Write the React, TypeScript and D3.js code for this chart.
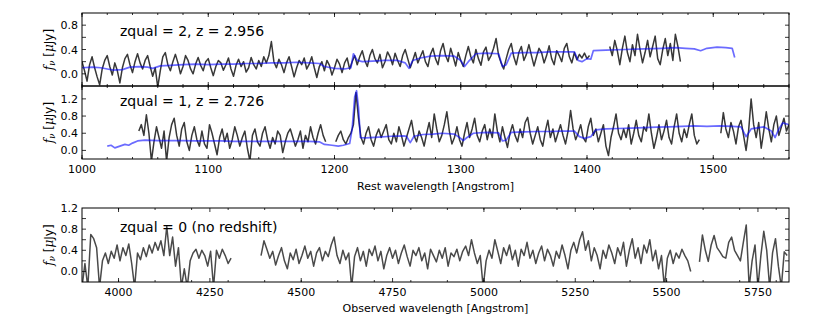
import * as d3 from "d3";

// ---- panel 1: zqual = 2 (rest frame) ----
const p1Label = "zqual = 2, z = 2.956";
const p1Step = 2;
const p1StartA = 1000;
const p1FluxA = [
  0.20, 0.05, -0.12, 0.15, 0.28, 0.10, -0.05, -0.18, 0.08, 0.22,
  0.30, 0.12, -0.02, 0.18, 0.05, -0.15, 0.10, 0.25, 0.32, 0.15,
  0.02, 0.20, 0.33, 0.18, 0.08, 0.22, 0.30, 0.12, -0.04, 0.10,
  -0.22, 0.05, 0.28, 0.35, 0.15, 0.05, 0.20, 0.32, 0.18, 0.00,
  0.12, 0.30, 0.22, 0.08, 0.00, 0.16, 0.27, 0.14, 0.05, 0.20,
  0.25, 0.10, -0.03, 0.12, 0.22, 0.18, 0.06, 0.15, 0.26, 0.08,
  -0.04, 0.14, 0.24, 0.12, 0.20, 0.03, 0.10, 0.27, 0.15, 0.08,
  0.22, 0.12, 0.28, 0.18, 0.30, 0.53, 0.20, 0.10, 0.24, 0.15,
  0.02, 0.18, 0.28, 0.12, -0.05, 0.10, 0.22, 0.15, 0.26, 0.08,
  0.16, 0.28, 0.10, -0.06, 0.12, 0.20, 0.05, 0.22, 0.14, -0.02,
  0.10, 0.24, 0.16, 0.02, 0.18, 0.26, 0.08, 0.20, 0.30, 0.15,
  0.28, 0.38, 0.22, 0.12, 0.30, 0.40, 0.25, 0.18, 0.32, 0.10,
  0.20, 0.36, 0.28, 0.15, 0.34, 0.22, 0.12, 0.30, 0.40, 0.25,
  0.10, 0.22, 0.35, 0.18, 0.28, 0.38, 0.20, 0.12, 0.32, 0.42,
  0.25, 0.15, 0.38, 0.50, 0.30, 0.20, 0.42, 0.28, 0.13, 0.35,
  0.22, 0.12, 0.30, 0.45, 0.28, 0.18, 0.40, 0.25, 0.14, 0.36,
  0.44, 0.22, 0.30, 0.42, 0.58, 0.30, 0.18, 0.08, 0.25, 0.40,
  0.50, 0.28, 0.15, 0.35, 0.45, 0.22, 0.32, 0.48, 0.30, 0.13,
  0.28, 0.42, 0.35, 0.18, 0.30, 0.46, 0.25, 0.15, 0.38, 0.30,
  0.20, 0.42, 0.50, 0.28, 0.18, 0.35, 0.23, 0.32, 0.26, 0.34,
  0.25, 0.30,
];
const p1StartB = 1418;
const p1FluxB = [
  0.45, 0.30, 0.55, 0.38, 0.15, 0.42, 0.62, 0.35, 0.20, 0.48,
  0.30, 0.65, 0.40, 0.18, 0.35, 0.55, 0.28, 0.45, 0.62, 0.25,
  0.15, 0.40, 0.58, 0.30, 0.50, 0.22, 0.65, 0.45, 0.20,
];
const p1Model: [number, number][] = [
  [1000, 0.10], [1008, 0.11], [1015, 0.10], [1020, 0.08], [1025, 0.06], [1032, 0.07],
  [1038, 0.11], [1045, 0.12], [1052, 0.11], [1056, 0.09], [1062, 0.13], [1070, 0.14],
  [1080, 0.15], [1090, 0.16], [1100, 0.15], [1110, 0.16], [1120, 0.16], [1130, 0.17],
  [1140, 0.17], [1150, 0.18], [1160, 0.18], [1170, 0.19], [1180, 0.18], [1188, 0.17],
  [1192, 0.12], [1200, 0.09], [1208, 0.08], [1213, 0.10], [1215, 0.33], [1218, 0.22],
  [1222, 0.20], [1230, 0.21], [1240, 0.22], [1250, 0.22], [1256, 0.18], [1259, 0.09],
  [1262, 0.22], [1268, 0.26], [1276, 0.29], [1285, 0.30], [1295, 0.29], [1300, 0.22],
  [1303, 0.12], [1306, 0.20], [1312, 0.33], [1320, 0.34], [1330, 0.33], [1333, 0.12],
  [1336, 0.15], [1340, 0.34], [1350, 0.35], [1360, 0.35], [1370, 0.36], [1380, 0.36],
  [1390, 0.36], [1393, 0.22], [1396, 0.20], [1400, 0.25], [1403, 0.24], [1405, 0.38],
  [1415, 0.39], [1430, 0.40], [1445, 0.41], [1460, 0.42], [1470, 0.43], [1478, 0.42],
  [1485, 0.41], [1490, 0.38], [1495, 0.42], [1503, 0.44], [1510, 0.43], [1515, 0.42],
  [1517, 0.27],
];

// ---- panel 2: zqual = 1 (rest frame) ----
const p2Label = "zqual = 1, z = 2.726";
const p2Step = 2;
const p2StartA = 1045;
const p2FluxA = [
  0.45, 0.60, 0.35, 0.83, 0.40, -0.25, 0.20, 0.55, 0.30, 0.05,
  0.45, -0.25, 0.30, 0.60, 0.75, 0.35, 0.10, 0.50, 0.65, 0.20,
  0.00, 0.35, 0.55, 0.25, 0.10, 0.45, 0.15, 0.05, 0.60, 0.40,
  0.15, -0.10, 0.30, 0.50, 0.20, 0.40, 0.05, 0.25, 0.55, 0.35,
  0.10, 0.30, 0.45, 0.05, -0.25, 0.35, 0.50, 0.20, 0.10, 0.40,
  0.55, 0.25, 0.05, 0.30, 0.15, 0.45, 0.35, -0.05, 0.20, 0.40,
  0.50, 0.30, 0.10, 0.25, 0.45, 0.05, 0.35, 0.20, 0.55, 0.30,
  0.15, 0.40, 0.60, 0.35, 0.20,
];
const p2StartB = 1201;
const p2FluxB = [
  0.20, 0.35, 0.45, 0.25, 0.15, 0.30, 0.40, 0.60, 1.35, 0.75,
  0.30, 0.15, 0.40, 0.55, 0.25, 0.10, 0.35, 0.50, 0.30, 0.45,
  0.60, 0.25, 0.15, 0.40, 0.20, 0.55, 0.35, 0.10, 0.30, 0.50,
  0.70, 0.35, 0.20, 0.45, 0.30, 0.10, 0.40, 0.65, 0.30, 0.85,
  0.50, 0.20, 0.35, 0.60, 0.90, 0.45, 0.15, 0.30, 0.55, 0.25,
  0.10, 0.40, 0.65, 0.30, 0.50, 0.75, 0.35, 0.20, 0.45, 0.60,
  0.25, 0.50, 0.30, 0.85, 0.45, 0.20, 0.55, 0.30, 0.07, 0.40,
  0.60, 0.35, 0.20, 0.50, 0.30, 0.65, 0.77, 0.40, 0.15, 0.35,
  0.55, 0.25, 0.10, 0.45, 0.70, 0.30, 0.50, 0.20, 0.40, 0.60,
  0.35, 0.15, 0.45, 0.93, 0.50, 0.25, 0.40, 0.60, 0.30, 0.20,
  0.55, 0.75, 0.35, 0.50, 0.20, 0.40, 0.60, 0.10, -0.12, 0.30,
  0.55, 0.85, 0.40, 0.25, 0.50, 0.30, 0.60, 0.15, 0.40, 0.70,
  0.35, 0.20, 0.55, 0.45, 0.85, 0.40, 0.05, 0.30, 0.60, 0.25,
  0.45, 0.70, 0.30, 0.15, 0.55, 0.85, 0.40, 0.20, 0.50, 0.30,
  0.60, 0.85, 0.35, 0.15, 0.25,
];
const p2StartC = 1506;
const p2FluxC = [
  0.40, 0.88, 0.50, 0.30, 0.65, 0.45, 0.15, 0.55, 0.70, 0.35,
  0.00, 0.45, 1.20, 0.60, 0.30, 0.65, 0.05, 0.45, 0.90, 0.50,
  0.20, 0.60, 0.80, 0.35, 0.55, 0.75, 0.45, 0.60,
];
const p2Model: [number, number][] = [
  [1020, 0.10], [1023, 0.12], [1026, 0.06], [1030, 0.10], [1034, 0.14], [1037, 0.12],
  [1040, 0.17], [1044, 0.22], [1050, 0.24], [1060, 0.23], [1070, 0.23], [1080, 0.23],
  [1090, 0.22], [1100, 0.22], [1110, 0.22], [1120, 0.21], [1130, 0.21], [1140, 0.21],
  [1150, 0.21], [1160, 0.21], [1170, 0.21], [1180, 0.21], [1188, 0.20], [1192, 0.14],
  [1198, 0.12], [1203, 0.10], [1207, 0.12], [1212, 0.16], [1214, 0.5], [1216, 1.25],
  [1217.5, 1.39], [1219, 1.0], [1220.5, 0.3], [1225, 0.29], [1235, 0.31], [1245, 0.33],
  [1255, 0.34], [1257, 0.33], [1260, 0.18], [1263, 0.33], [1270, 0.37], [1278, 0.38],
  [1285, 0.40], [1295, 0.38], [1299, 0.30], [1302, 0.23], [1305, 0.30], [1310, 0.40],
  [1320, 0.42], [1330, 0.41], [1333, 0.22], [1336, 0.24], [1340, 0.42], [1350, 0.43],
  [1360, 0.44], [1370, 0.44], [1380, 0.45], [1390, 0.45], [1394, 0.32], [1398, 0.28],
  [1403, 0.32], [1407, 0.48], [1415, 0.50], [1425, 0.51], [1435, 0.52], [1445, 0.53],
  [1455, 0.54], [1465, 0.55], [1475, 0.56], [1485, 0.57], [1495, 0.56], [1505, 0.57],
  [1515, 0.56], [1522, 0.55], [1526, 0.32], [1530, 0.50], [1540, 0.55], [1546, 0.45],
  [1549, 0.30], [1552, 0.50], [1555, 0.64], [1560, 0.60],
];

// ---- panel 3: zqual = 0 (observed frame) ----
const p3Label = "zqual = 0 (no redshift)";
const p3Step = 8;
const p3StartA = 3900;
const p3FluxA = [
  -0.30, 0.15, -0.30, 0.70, 0.62, 0.45, -0.30, 0.20, 0.35, 0.15,
  0.38, 0.25, 0.50, 0.20, 0.45, 0.30, 0.52, 0.15, -0.30, 0.35,
  0.22, 0.45, 0.28, 0.50, 0.35, 0.55, 0.40, 0.58, 0.30, 0.85,
  0.30, 0.65, 0.10, 0.45, -0.30, 0.05, -0.30, 0.20, 0.35, 0.42,
  0.25, 0.40, 0.30, 0.10, 0.38, -0.30, 0.40, 0.25, 0.42, 0.30,
  0.15, 0.25,
];
const p3StartB = 4390;
const p3FluxB = [
  0.30, 0.58, 0.42, 0.25, 0.38, 0.12, 0.30, 0.45, 0.20, 0.05,
  0.35, 0.22, 0.42, 0.15, 0.30, 0.48, 0.25, 0.38, 0.10, 0.35,
  0.45, 0.20, 0.38, 0.28, 0.50, 0.65, 0.30, 0.15, 0.40, 0.22,
  0.35, -0.30, 0.28, 0.45, 0.20, 0.38, 0.10, 0.42, 0.30, 0.48,
  0.20, 0.38, 0.05, 0.30, 0.45, 0.25, 0.40, 0.15, 0.35, 0.50,
  0.28, 0.10, 0.40, 0.30, 0.45, 0.20, 0.35, 0.05, 0.42, 0.30,
  0.18, 0.40, 0.25, 0.45, 0.10, 0.35, 0.28, 0.42, 0.20, 0.38,
  0.48, 0.30, 0.60, 0.35, 0.15, 0.30, -0.30, 0.20, 0.40, 0.25,
  0.60, 0.38, 0.15, 0.45, 0.30, 0.50, 0.22, 0.40, 0.10, 0.42,
  0.30, 0.55, 0.25, 0.40, 0.15, 0.35, 0.48, 0.20, 0.42, 0.30,
  0.10, 0.38, 0.25, 0.50, 0.30, 0.05, 0.40, 0.55, 0.35, 0.60,
  0.75, 0.40, 0.58, 0.20, 0.45, 0.30, 0.05, 0.40, 0.25, 0.50,
  0.35, 0.15, 0.45, 0.30, 0.55, 0.10, 0.40, 0.62, 0.25, 0.45,
  0.15, 0.50, 0.35, 0.60, 0.20, 0.40, 0.05, 0.30, -0.30, 0.25,
  0.40, 0.15, 0.35, 0.25, 0.42, 0.30, 0.20, 0.00,
];
const p3StartC = 5590;
const p3FluxC = [
  0.18, 0.69, 0.40, 0.19, 0.50, 0.68, 0.45, 0.37, 0.28, 0.25,
  0.55, 0.65, 0.40, 0.30, 0.20, 0.55, 0.88, -0.30, 0.20, 0.50,
  -0.30, 0.30, 0.76, 0.40, -0.30, 0.35, 0.62, 0.10, -0.30, 0.37,
  0.30,
];

// ---- axes ----
const restDomain: [number, number] = [1000, 1560];
const restMajor = [1000, 1100, 1200, 1300, 1400, 1500];
const restMinor = d3.range(1000, 1561, 20);
const obsDomain: [number, number] = [3900, 5835];
const obsMajor = [4000, 4250, 4500, 4750, 5000, 5250, 5500, 5750];
const obsMinor = d3.range(4000, 5801, 100);

const p1YDomain: [number, number] = [-0.2, 1.0];
const p1YTicks = [0.0, 0.2, 0.4, 0.6, 0.8];
const p1YLabels = [0.0, 0.4, 0.8];
const p2YDomain: [number, number] = [-0.2, 1.5];
const p2YTicks = [0.0, 0.4, 0.8, 1.2];
const p2YLabels = [0.0, 0.4, 0.8, 1.2];
const p3YDomain: [number, number] = [-0.2, 1.2];
const p3YTicks = [0.0, 0.2, 0.4, 0.6, 0.8, 1.0];
const p3YLabels = [0.0, 0.4, 0.8, 1.2];

const FONT = "DejaVu Sans, sans-serif";
const SERIF = "DejaVu Serif, serif";
const LEFT = 82;
const RIGHT = 789;

type Seg = { start: number; step: number; flux: number[] };

function toPoints(s: Seg): [number, number][] {
  return s.flux.map((f, i) => [s.start + i * s.step, f]);
}

function Panel(props: {
  id: string;
  top: number;
  bottom: number;
  xDomain: [number, number];
  xMajor: number[];
  xMinor: number[];
  showXLabels: boolean;
  yDomain: [number, number];
  yTicks: number[];
  yLabels: number[];
  segs: Seg[];
  model?: [number, number][];
  label: string;
  labelY: number;
  grey: string;
}) {
  const { top, bottom } = props;
  const x = d3.scaleLinear().domain(props.xDomain).range([LEFT, RIGHT]);
  const y = d3.scaleLinear().domain(props.yDomain).range([bottom, top]);
  const line = d3
    .line<[number, number]>()
    .x((d) => x(d[0]))
    .y((d) => y(d[1]));
  const clip = `clip-${props.id}`;
  const major = 4;
  const minor = 2;
  return (
    <g>
      <defs>
        <clipPath id={clip}>
          <rect x={LEFT} y={top} width={RIGHT - LEFT} height={bottom - top} />
        </clipPath>
      </defs>
      <g clipPath={`url(#${clip})`}>
        {props.segs.map((s, i) => (
          <path
            key={i}
            d={line(toPoints(s)) || ""}
            fill="none"
            stroke={props.grey}
            strokeWidth={1.5}
            strokeLinejoin="round"
          />
        ))}
        {props.model && (
          <path
            d={line(props.model) || ""}
            fill="none"
            stroke="#0000ff"
            strokeOpacity={0.58}
            strokeWidth={1.7}
            strokeLinejoin="round"
          />
        )}
      </g>
      {/* ticks point inward on all four sides */}
      {props.xMinor.map((t) => (
        <g key={"mn" + t}>
          <line x1={x(t)} x2={x(t)} y1={bottom} y2={bottom - minor} stroke="#000" strokeWidth={0.8} />
          <line x1={x(t)} x2={x(t)} y1={top} y2={top + minor} stroke="#000" strokeWidth={0.8} />
        </g>
      ))}
      {props.xMajor.map((t) => (
        <g key={"mj" + t}>
          <line x1={x(t)} x2={x(t)} y1={bottom} y2={bottom - major} stroke="#000" strokeWidth={0.8} />
          <line x1={x(t)} x2={x(t)} y1={top} y2={top + major} stroke="#000" strokeWidth={0.8} />
          {props.showXLabels && (
            <text x={x(t)} y={bottom + 14} textAnchor="middle" fontSize={11} fontFamily={FONT}>
              {t}
            </text>
          )}
        </g>
      ))}
      {props.yTicks.map((t) => (
        <g key={"y" + t}>
          <line x1={LEFT} x2={LEFT + major} y1={y(t)} y2={y(t)} stroke="#000" strokeWidth={0.8} />
          <line x1={RIGHT} x2={RIGHT - major} y1={y(t)} y2={y(t)} stroke="#000" strokeWidth={0.8} />
        </g>
      ))}
      {props.yLabels.map((t) => (
        <text key={"yl" + t} x={LEFT - 4} y={y(t) + 4} textAnchor="end" fontSize={11} fontFamily={FONT}>
          {d3.format(".1f")(t)}
        </text>
      ))}
      <rect x={LEFT} y={top} width={RIGHT - LEFT} height={bottom - top} fill="none" stroke="#000" strokeWidth={1} />
      <text x={120} y={props.labelY} fontSize={14} fontFamily={FONT}>
        {props.label}
      </text>
      <text
        transform={`translate(53,${(top + bottom) / 2}) rotate(-90)`}
        textAnchor="middle"
        fontSize={12}
        fontFamily={FONT}
      >
        <tspan fontStyle="italic" fontFamily={SERIF}>f</tspan>
        <tspan fontSize={8.5} dy={2} fontStyle="italic" fontFamily={SERIF}>ν</tspan>
        <tspan dy={-2}> [</tspan>
        <tspan fontStyle="italic" fontFamily={SERIF}>μ</tspan>
        <tspan>Jy]</tspan>
      </text>
    </g>
  );
}

export default function App() {
  return (
    <svg width={830} height={332} style={{ position: "absolute", left: 0, top: 0, background: "#fff" }}>
      <rect width={830} height={332} fill="#fff" />
      <Panel
        id="p1"
        top={13}
        bottom={86}
        xDomain={restDomain}
        xMajor={restMajor}
        xMinor={restMinor}
        showXLabels={false}
        yDomain={p1YDomain}
        yTicks={p1YTicks}
        yLabels={p1YLabels}
        segs={[
          { start: p1StartA, step: p1Step, flux: p1FluxA },
          { start: p1StartB, step: p1Step, flux: p1FluxB },
        ]}
        model={p1Model}
        label={p1Label}
        labelY={36}
        grey="#383838"
      />
      <Panel
        id="p2"
        top={86}
        bottom={159}
        xDomain={restDomain}
        xMajor={restMajor}
        xMinor={restMinor}
        showXLabels={true}
        yDomain={p2YDomain}
        yTicks={p2YTicks}
        yLabels={p2YLabels}
        segs={[
          { start: p2StartA, step: p2Step, flux: p2FluxA },
          { start: p2StartB, step: p2Step, flux: p2FluxB },
          { start: p2StartC, step: p2Step, flux: p2FluxC },
        ]}
        model={p2Model}
        label={p2Label}
        labelY={106}
        grey="#383838"
      />
      <text x={(LEFT + RIGHT) / 2} y={190} textAnchor="middle" fontSize={11} fontFamily={FONT}>
        Rest wavelength [Angstrom]
      </text>
      <Panel
        id="p3"
        top={208}
        bottom={282}
        xDomain={obsDomain}
        xMajor={obsMajor}
        xMinor={obsMinor}
        showXLabels={true}
        yDomain={p3YDomain}
        yTicks={p3YTicks}
        yLabels={p3YLabels}
        segs={[
          { start: p3StartA, step: p3Step, flux: p3FluxA },
          { start: p3StartB, step: p3Step, flux: p3FluxB },
          { start: p3StartC, step: p3Step, flux: p3FluxC },
        ]}
        label={p3Label}
        labelY={232}
        grey="#4a4a4a"
      />
      <text x={(LEFT + RIGHT) / 2} y={312} textAnchor="middle" fontSize={11} fontFamily={FONT}>
        Observed wavelength [Angstrom]
      </text>
    </svg>
  );
}
